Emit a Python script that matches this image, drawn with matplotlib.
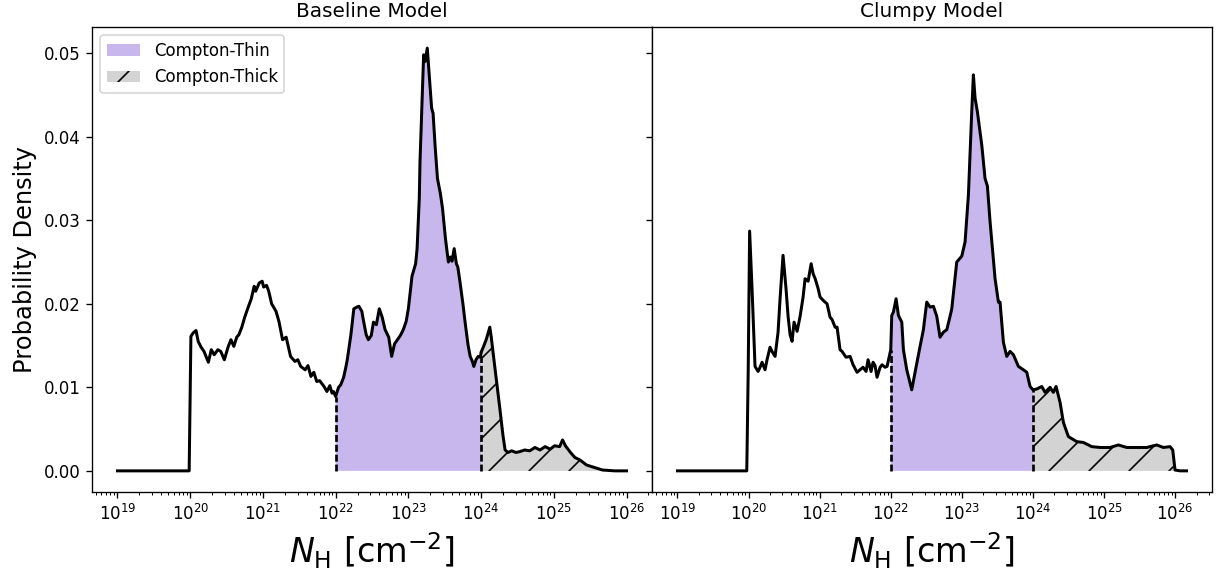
import numpy as np
import matplotlib
matplotlib.use("Agg")
import matplotlib.pyplot as plt

# ---------------- data (log10 N_H, probability density) ----------------
base_logNH = [19.0, 19.986, 20.01, 20.04, 20.08, 20.11, 20.15, 20.19, 20.25, 20.29,
              20.33, 20.38, 20.42, 20.47, 20.52, 20.56, 20.60, 20.64, 20.67, 20.71,
              20.75, 20.79, 20.84, 20.88, 20.90, 20.95, 20.99, 21.01, 21.05, 21.08,
              21.12, 21.18, 21.22, 21.27, 21.32, 21.36, 21.38, 21.44, 21.48, 21.52,
              21.58, 21.62, 21.66, 21.70, 21.74, 21.78, 21.84, 21.88, 21.92, 21.95,
              21.97, 22.00, 22.04, 22.07, 22.11, 22.14, 22.16, 22.21, 22.25, 22.29,
              22.32, 22.36, 22.38, 22.42, 22.45, 22.49, 22.52, 22.56, 22.60, 22.64,
              22.68, 22.73, 22.77, 22.81, 22.85, 22.89, 22.93, 22.97, 23.00, 23.03,
              23.05, 23.10, 23.12, 23.15, 23.16, 23.19, 23.21, 23.23, 23.26, 23.29,
              23.32, 23.34, 23.37, 23.40, 23.44, 23.47, 23.51, 23.55, 23.58, 23.60,
              23.63, 23.66, 23.68, 23.71, 23.75, 23.78, 23.82, 23.85, 23.88, 23.90,
              23.93, 23.96, 23.99, 24.00, 24.03, 24.07, 24.10, 24.12, 24.14, 24.16,
              24.21, 24.26, 24.30, 24.33, 24.37, 24.42, 24.48, 24.53, 24.60, 24.67,
              24.74, 24.81, 24.88, 24.95, 25.01, 25.08, 25.12, 25.16, 25.22, 25.29,
              25.36, 25.45, 25.56, 25.67, 25.84, 26.0]
base_density = [0.0, 0.0, 0.0161, 0.0165, 0.0168, 0.0155, 0.0148, 0.0143, 0.0130, 0.0145,
                0.0139, 0.0145, 0.0143, 0.0133, 0.0148, 0.0157, 0.0149, 0.0160, 0.0163, 0.0172,
                0.0184, 0.0194, 0.0206, 0.0221, 0.0215, 0.0225, 0.0227, 0.0220, 0.0222, 0.0215,
                0.0200, 0.0191, 0.0179, 0.0157, 0.0160, 0.0145, 0.0137, 0.0131, 0.0133, 0.0125,
                0.0121, 0.0126, 0.0113, 0.0118, 0.0107, 0.0108, 0.0101, 0.0095, 0.0102, 0.0093,
                0.0095, 0.0089, 0.0100, 0.0103, 0.0112, 0.0124, 0.0133, 0.0163, 0.0194, 0.0196,
                0.0197, 0.0191, 0.0181, 0.0163, 0.0157, 0.0162, 0.0178, 0.0175, 0.0194, 0.0184,
                0.0169, 0.0160, 0.0137, 0.0152, 0.0157, 0.0162, 0.0169, 0.0179, 0.0194, 0.0218,
                0.0233, 0.0248, 0.0266, 0.0326, 0.0370, 0.0446, 0.0498, 0.0490, 0.0506, 0.0470,
                0.0434, 0.0428, 0.0386, 0.0350, 0.0332, 0.0314, 0.0278, 0.0250, 0.0256, 0.0251,
                0.0266, 0.0248, 0.0244, 0.0226, 0.0200, 0.0178, 0.0151, 0.0137, 0.0131, 0.0125,
                0.0133, 0.0137, 0.0136, 0.0142, 0.0148, 0.0157, 0.0166, 0.0172, 0.0160, 0.0145,
                0.0109, 0.0073, 0.0043, 0.0025, 0.0022, 0.0024, 0.0022, 0.0023, 0.0025, 0.0024,
                0.0028, 0.0025, 0.0029, 0.0026, 0.0030, 0.0029, 0.0037, 0.0030, 0.0023, 0.0016,
                0.0013, 0.0007, 0.0004, 0.0001, 0.0, 0.0]

clumpy_logNH = [19.0, 19.975, 19.995, 20.015, 20.049, 20.091, 20.134, 20.162, 20.190, 20.232,
                20.260, 20.302, 20.330, 20.373, 20.415, 20.443, 20.485, 20.527, 20.556, 20.584,
                20.612, 20.640, 20.683, 20.725, 20.767, 20.795, 20.838, 20.880, 20.908, 20.937,
                20.979, 21.006, 21.062, 21.104, 21.146, 21.175, 21.217, 21.245, 21.287, 21.315,
                21.371, 21.428, 21.470, 21.526, 21.568, 21.610, 21.653, 21.681, 21.723, 21.751,
                21.779, 21.807, 21.850, 21.878, 21.920, 21.948, 22.000, 22.014, 22.037, 22.075,
                22.108, 22.155, 22.178, 22.225, 22.295, 22.342, 22.403, 22.459, 22.506, 22.553,
                22.600, 22.647, 22.693, 22.740, 22.788, 22.834, 22.858, 22.928, 22.999, 23.045,
                23.092, 23.139, 23.162, 23.186, 23.218, 23.280, 23.326, 23.359, 23.397, 23.467,
                23.514, 23.537, 23.584, 23.631, 23.678, 23.725, 23.795, 23.865, 23.913, 23.959,
                24.000, 24.053, 24.124, 24.170, 24.240, 24.287, 24.325, 24.381, 24.428, 24.498,
                24.616, 24.709, 24.827, 24.944, 25.085, 25.201, 25.319, 25.460, 25.601, 25.741,
                25.834, 25.928, 25.966, 25.998, 26.070, 26.160]
clumpy_density = [0.0, 0.0, 0.0120, 0.0287, 0.0218, 0.0125, 0.0119, 0.0124, 0.0130, 0.0121,
                  0.0133, 0.0148, 0.0143, 0.0137, 0.0166, 0.0206, 0.0258, 0.0218, 0.0185, 0.0163,
                  0.0155, 0.0178, 0.0167, 0.0185, 0.0208, 0.0230, 0.0227, 0.0248, 0.0236, 0.0230,
                  0.0218, 0.0208, 0.0203, 0.0200, 0.0184, 0.0181, 0.0172, 0.0172, 0.0145, 0.0143,
                  0.0136, 0.0137, 0.0127, 0.0118, 0.0121, 0.0124, 0.0119, 0.0133, 0.0119, 0.0130,
                  0.0126, 0.0112, 0.0124, 0.0127, 0.0124, 0.0125, 0.0145, 0.0186, 0.0190, 0.0206,
                  0.0186, 0.0178, 0.0145, 0.0121, 0.0097, 0.0118, 0.0145, 0.0169, 0.0202, 0.0196,
                  0.0197, 0.0185, 0.0160, 0.0166, 0.0169, 0.0185, 0.0194, 0.0250, 0.0257, 0.0274,
                  0.0330, 0.0430, 0.0474, 0.0446, 0.0430, 0.0390, 0.0350, 0.0341, 0.0298, 0.0230,
                  0.0202, 0.0202, 0.0154, 0.0137, 0.0143, 0.0139, 0.0125, 0.0121, 0.0118, 0.0101,
                  0.0097, 0.0098, 0.0101, 0.0094, 0.0100, 0.0094, 0.0101, 0.0082, 0.0058, 0.0041,
                  0.0035, 0.0034, 0.0029, 0.0028, 0.0028, 0.0031, 0.0028, 0.0028, 0.0028, 0.0031,
                  0.0028, 0.0029, 0.0025, 0.0001, 0.0, 0.0]

titles = ["Baseline Model", "Clumpy Model"]
thin_label = "Compton-Thin"
thick_label = "Compton-Thick"
log_thin_lo, log_thin_hi = 22.0, 24.0

# ---------------- figure ----------------
DPI = 120
fig, axes = plt.subplots(1, 2, figsize=(1216 / DPI, 574 / DPI), dpi=DPI, sharey=True)
fig.subplots_adjust(left=92 / 1216, right=1212 / 1216, bottom=1 - 492 / 574,
                    top=1 - 27 / 574, wspace=0)

datasets = [(base_logNH, base_density), (clumpy_logNH, clumpy_density)]

for i, (ax, (lx, dens)) in enumerate(zip(axes, datasets)):
    lx = np.asarray(lx)
    dens = np.asarray(dens)
    nh = 10.0 ** lx
    thin = (lx >= log_thin_lo) & (lx <= log_thin_hi)
    thick = lx >= log_thin_hi
    ax.fill_between(nh, 0, dens, where=thin, facecolor="mediumpurple", alpha=0.5,
                    linewidth=0, label=thin_label)
    ax.fill_between(nh, 0, dens, where=thick, facecolor="lightgray", edgecolor="black",
                    hatch="/", linewidth=0, label=thick_label)
    ax.plot(nh, dens, color="black", lw=1.8, zorder=3)
    y22 = dens[np.argmin(np.abs(lx - log_thin_lo))]
    y24 = dens[np.argmin(np.abs(lx - log_thin_hi))]
    ax.vlines([10 ** log_thin_lo, 10 ** log_thin_hi], 0, [y22, y24], colors="black",
              linestyles=(0, (2.6, 1.1)), lw=1.6, zorder=3)
    ax.set_xscale("log")
    ax.set_title(titles[i], fontsize=12)
    ax.set_xlabel(r"$N_{\rm H}$ [cm$^{-2}$]", fontsize=20)
    ax.tick_params(labelsize=10)

axes[0].set_ylabel("Probability Density", fontsize=14.5)
axes[0].legend(loc="upper left", fontsize=10)

fig.savefig("out.png", dpi=DPI)
